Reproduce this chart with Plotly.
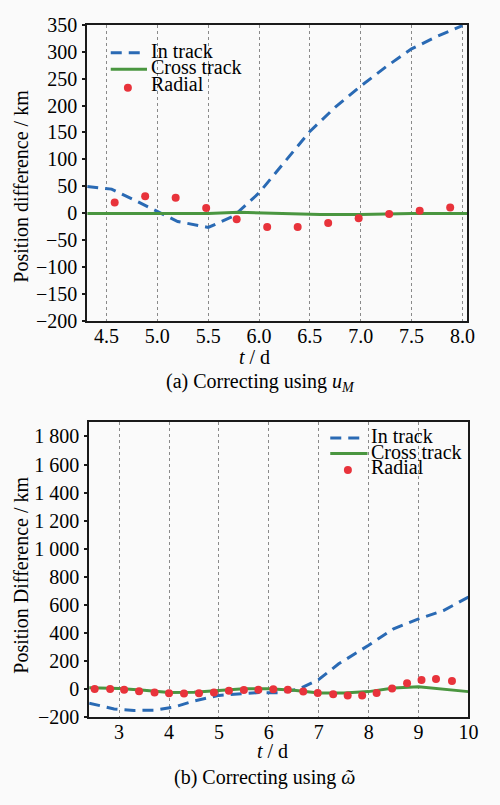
import plotly.graph_objects as go

# ---------------- data: panel (a) ----------------
t_a_in = [4.31, 4.55, 4.75, 5.0, 5.2, 5.5, 5.75, 6.0, 6.25, 6.5, 6.75, 7.0, 7.25, 7.5, 7.75, 8.0]
in_a = [50, 45, 27, 3, -15, -26, -5, 38, 95, 152, 197, 236, 272, 305, 328, 348]

t_a_cross = [4.31, 5.0, 5.5, 5.8, 6.2, 6.6, 7.0, 7.5, 8.05]
cross_a = [0, 0, 0, 2, 0, -2, -2, 0, 0]

t_a_rad = [4.58, 4.88, 5.18, 5.48, 5.78, 6.08, 6.38, 6.68, 6.98, 7.28, 7.58, 7.88]
rad_a = [20, 32, 29, 10, -11, -25, -25, -18, -9, -1, 5, 11]

# ---------------- data: panel (b) ----------------
t_b_in = [2.4, 2.6, 2.9, 3.3, 3.7, 4.1, 4.5, 5.0, 5.4, 5.8, 6.2, 6.6, 7.0, 7.4, 8.0, 8.5, 9.0, 9.5, 10.0]
in_b = [-100, -118, -142, -152, -150, -128, -85, -45, -33, -25, -27, 0, 68, 180, 312, 430, 500, 560, 655]

t_b_cross = [2.4, 3.0, 3.5, 4.0, 4.5, 5.0, 5.5, 6.0, 6.5, 7.0, 7.5, 8.0, 8.5, 9.0, 9.5, 10.0]
cross_b = [10, 5, -8, -25, -22, -8, 2, 3, -8, -28, -28, -18, 8, 17, 0, -18]

t_b_rad = [2.51, 2.82, 3.1, 3.4, 3.71, 4.0, 4.3, 4.6, 4.9, 5.2, 5.5, 5.79, 6.09, 6.38,
           6.69, 6.98, 7.29, 7.58, 7.87, 8.16, 8.47, 8.77, 9.06, 9.35, 9.67]
rad_b = [0, 0, -4, -15, -24, -30, -32, -30, -25, -12, -7, -5, -2, -5,
         -18, -28, -37, -46, -46, -28, 5, 42, 65, 72, 58]

series_names = ["In track", "Cross track", "Radial"]
captions = ["(a) Correcting using <i>u</i><sub><i>M</i></sub>", "(b) Correcting using <i>ῶ</i>"]
ytitles = ["Position difference / km", "Position Difference / km"]
xtitle = "<i>t</i> / d"

BLUE = "#2a6ab4"
GREEN = "#4a9640"
RED = "#e8333b"
FONT = "Liberation Serif, Times New Roman, DejaVu Serif, serif"
W, H = 500, 805

def px(x):
    return x / W

def py(y):
    return 1 - y / H

fig = go.Figure()

dash = "11px,7px"
# panel (a)
fig.add_trace(go.Scatter(x=t_a_in, y=in_a, mode="lines", name=series_names[0], line=dict(color=BLUE, width=3, dash=dash), xaxis="x", yaxis="y", showlegend=False))
fig.add_trace(go.Scatter(x=t_a_cross, y=cross_a, mode="lines", name=series_names[1], line=dict(color=GREEN, width=3), xaxis="x", yaxis="y", showlegend=False))
fig.add_trace(go.Scatter(x=t_a_rad, y=rad_a, mode="markers", name=series_names[2], marker=dict(color=RED, size=8), xaxis="x", yaxis="y", showlegend=False))

# panel (b)
fig.add_trace(go.Scatter(x=t_b_in, y=in_b, mode="lines", name=series_names[0], line=dict(color=BLUE, width=3, dash=dash), xaxis="x2", yaxis="y2", showlegend=False))
fig.add_trace(go.Scatter(x=t_b_cross, y=cross_b, mode="lines", name=series_names[1], line=dict(color=GREEN, width=3), xaxis="x2", yaxis="y2", showlegend=False))
fig.add_trace(go.Scatter(x=t_b_rad, y=rad_b, mode="markers", name=series_names[2], marker=dict(color=RED, size=8), xaxis="x2", yaxis="y2", showlegend=False))

tickfont = dict(family=FONT, size=20, color="black")
common_x = dict(showgrid=True, griddash="dot", gridcolor="#8a8a8a", gridwidth=1,
                showline=True, linecolor="#1a1a1a", linewidth=2, mirror=True,
                ticks="", tickfont=tickfont, zeroline=False, ticklabelstandoff=-4)
common_y = dict(showgrid=False, showline=True, linecolor="#1a1a1a", linewidth=2, mirror=True,
                ticks="outside", ticklen=3, tickwidth=1.5, tickcolor="#1a1a1a",
                tickfont=tickfont, zeroline=False, ticklabelstandoff=1)

fig.update_layout(
    width=W, height=H,
    margin=dict(l=0, r=0, t=0, b=0),
    paper_bgcolor="#fafafa", plot_bgcolor="#fafafa",
    separators=". ",
    font=dict(family=FONT, size=20, color="black"),
    xaxis=dict(domain=[px(89), px(477)], range=[4.31, 8.05], dtick=0.5, tick0=4.5, tickformat=".1f", anchor="y", **common_x),
    yaxis=dict(domain=[py(319), py(14)], range=[-200, 350], dtick=50, tick0=0, anchor="x", **common_y),
    xaxis2=dict(domain=[px(91), px(478)], range=[2.4, 10.0], dtick=1, tick0=0, anchor="y2", **common_x),
    yaxis2=dict(domain=[py(726), py(423)], range=[-200, 1900], dtick=200, tick0=0, separatethousands=True, anchor="x2", **common_y),
)

annotations = []
shapes = []

def note(x, y, text, size=20, angle=0, xanchor="center"):
    annotations.append(dict(x=px(x), y=py(y), xref="paper", yref="paper", text=text, textangle=angle,
                            showarrow=False, xanchor=xanchor, yanchor="middle",
                            font=dict(family=FONT, size=size, color="black")))

# axis titles and captions
note(22, 180, ytitles[0], size=20, angle=-90)
note(22, 580, ytitles[1], size=20, angle=-90)
note(260, 356, xtitle, size=20)
note(278, 761, xtitle, size=20)
note(266, 382, captions[0], size=20)
note(270, 788, captions[1], size=20)

# custom legends (tight line spacing as in the reference)
def add_legend(x0, x1, xt, ys, ydot):
    shapes.append(dict(type="line", xref="paper", yref="paper", x0=px(x0), x1=px(x1), y0=py(ys[0]), y1=py(ys[0]),
                       line=dict(color=BLUE, width=3, dash=dash)))
    shapes.append(dict(type="line", xref="paper", yref="paper", x0=px(x0), x1=px(x1 + 2), y0=py(ys[1]), y1=py(ys[1]),
                       line=dict(color=GREEN, width=3)))
    cx = (x0 + x1) / 2
    shapes.append(dict(type="circle", xref="paper", yref="paper", xsizemode="pixel", ysizemode="pixel",
                       xanchor=px(cx), yanchor=py(ydot), x0=-4, x1=4, y0=-4, y1=4,
                       fillcolor=RED, line=dict(color=RED, width=0)))
    for name, yy in zip(series_names, ys):
        note(xt, yy - 2, name, size=20, xanchor="left")

add_legend(113, 148, 152, [43, 60, 77], 79)
add_legend(337, 373, 377, [439, 455, 471], 472)

fig.update_layout(annotations=annotations, shapes=shapes)

fig.write_html("out.html")
